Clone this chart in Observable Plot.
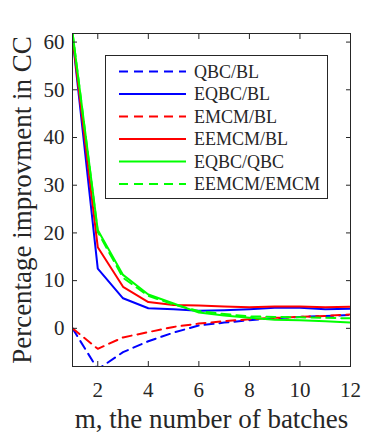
<!DOCTYPE html>
<html>
<head>
<meta charset="utf-8">
<script src="https://cdn.jsdelivr.net/npm/d3@7"></script>
<script src="https://cdn.jsdelivr.net/npm/@observablehq/plot@0.6"></script>
<style>
  html, body { margin: 0; padding: 0; background: #fff; }
  #wrap { position: relative; width: 382px; height: 436px; }
  #wrap svg, #wrap svg text { font-family: 'Liberation Serif', 'Times New Roman', serif !important; }
  #legend { position: absolute; left: 105px; top: 55px; width: 223px; height: 144px;
    border: 1px solid #262626; background: #fff; box-sizing: border-box; }
</style>
</head>
<body>
<div id="wrap"></div>
<script>
const m = [1, 2, 3, 4, 5, 6, 7, 8, 9, 10, 11, 12];
const seriesNames = ["QBC/BL", "EQBC/BL", "EMCM/BL", "EEMCM/BL", "EQBC/QBC", "EEMCM/EMCM"];
const qbcBL      = [0, -8.6, -5.0, -2.7, -0.9, 0.6, 1.2, 1.7, 2.1, 2.4, 2.6, 2.8];
const eqbcBL     = [61, 12.5, 6.3, 4.2, 4.0, 3.7, 3.8, 4.0, 4.3, 4.3, 4.0, 4.1];
const emcmBL     = [0, -4.3, -1.9, -0.8, 0.3, 1.0, 1.5, 1.9, 2.2, 2.4, 2.6, 2.9];
const eemcmBL    = [61, 17.0, 8.7, 5.5, 4.9, 4.8, 4.6, 4.4, 4.6, 4.6, 4.4, 4.5];
const eqbcQBC    = [62, 20.6, 11.2, 7.1, 5.2, 3.3, 2.7, 2.2, 1.8, 1.7, 1.5, 1.2];
const eemcmEMCM  = [62, 20.2, 10.6, 6.8, 5.0, 3.6, 3.0, 2.5, 2.4, 2.3, 2.2, 2.1];
const seriesValues = [qbcBL, eqbcBL, emcmBL, eemcmBL, eqbcQBC, eemcmEMCM];
const seriesColors = ["#0000ff", "#0000ff", "#ff0000", "#ff0000", "#00ff00", "#00ff00"];
const seriesDashed = [true, false, true, false, false, true];
const xTicks = [2, 4, 6, 8, 10, 12];
const yTicks = [0, 10, 20, 30, 40, 50, 60];
const xLabel = "m, the number of batches";
const yLabel = "Percentage improvment in CC";

const AX = "#262626";
const DASH = "9,6";
const FONT = "'Liberation Serif', 'Times New Roman', serif";

const lineMarks = seriesNames.map((name, i) => {
  const data = m.map((x, j) => ({x, y: seriesValues[i][j]}));
  return Plot.line(data, {x: "x", y: "y", stroke: seriesColors[i], strokeWidth: 2,
    strokeDasharray: seriesDashed[i] ? DASH : null, clip: true});
});

const chart = Plot.plot({
  width: 382, height: 436,
  marginLeft: 72, marginRight: 32, marginTop: 33, marginBottom: 70,
  style: {fontFamily: FONT, fontSize: "21px", color: AX, background: "#fff"},
  x: {domain: [1, 12]},
  y: {domain: [-8, 61.8]},
  marks: [
    ...lineMarks,
    Plot.frame({stroke: AX, strokeWidth: 1}),
    Plot.axisX({anchor: "bottom", ticks: xTicks.filter(t => t < 12), tickSize: -5, tickFormat: () => "", stroke: AX, label: null}),
    Plot.axisX({anchor: "top", ticks: xTicks.filter(t => t < 12), tickSize: -5, tickFormat: () => "", stroke: AX, label: null}),
    Plot.axisY({anchor: "left", ticks: yTicks, tickSize: -5, tickFormat: () => "", stroke: AX, label: null}),
    Plot.axisY({anchor: "right", ticks: yTicks, tickSize: -5, tickFormat: () => "", stroke: AX, label: null}),
    Plot.axisX({anchor: "bottom", ticks: xTicks, tickSize: 0, tickPadding: 16, fill: AX, label: null, fontSize: 21, fontFamily: FONT}),
    Plot.axisY({anchor: "left", ticks: yTicks, tickSize: 0, tickPadding: 8, fill: AX, label: null, fontSize: 21, fontFamily: FONT}),
    Plot.text([xLabel], {frameAnchor: "bottom", textAnchor: "middle", lineAnchor: "middle", dy: 53, fontSize: 27, fill: AX, fontFamily: FONT}),
    Plot.text([yLabel], {frameAnchor: "left", textAnchor: "middle", lineAnchor: "middle", dx: -50, rotate: -90, fontSize: 27, fill: AX, fontFamily: FONT})
  ]
});

const wrap = document.getElementById("wrap");
wrap.appendChild(chart);

// legend
const legend = document.createElement("div");
legend.id = "legend";
const ns = "http://www.w3.org/2000/svg";
const svg = document.createElementNS(ns, "svg");
svg.setAttribute("width", 221);
svg.setAttribute("height", 142);
svg.style.position = "absolute"; svg.style.left = "0"; svg.style.top = "0";
seriesNames.forEach((name, i) => {
  const yy = 15.5 + i * 22.5;
  const ln = document.createElementNS(ns, "line");
  ln.setAttribute("x1", 13); ln.setAttribute("x2", 80);
  ln.setAttribute("y1", yy); ln.setAttribute("y2", yy);
  ln.setAttribute("stroke", seriesColors[i]);
  ln.setAttribute("stroke-width", 2);
  if (seriesDashed[i]) ln.setAttribute("stroke-dasharray", DASH);
  svg.appendChild(ln);
  const tx = document.createElementNS(ns, "text");
  tx.setAttribute("x", 88); tx.setAttribute("y", yy);
  tx.setAttribute("dominant-baseline", "central");
  tx.setAttribute("font-family", FONT);
  tx.setAttribute("font-size", 18);
  tx.setAttribute("fill", AX);
  tx.textContent = name;
  svg.appendChild(tx);
});
legend.appendChild(svg);
wrap.appendChild(legend);
</script>
</body>
</html>
